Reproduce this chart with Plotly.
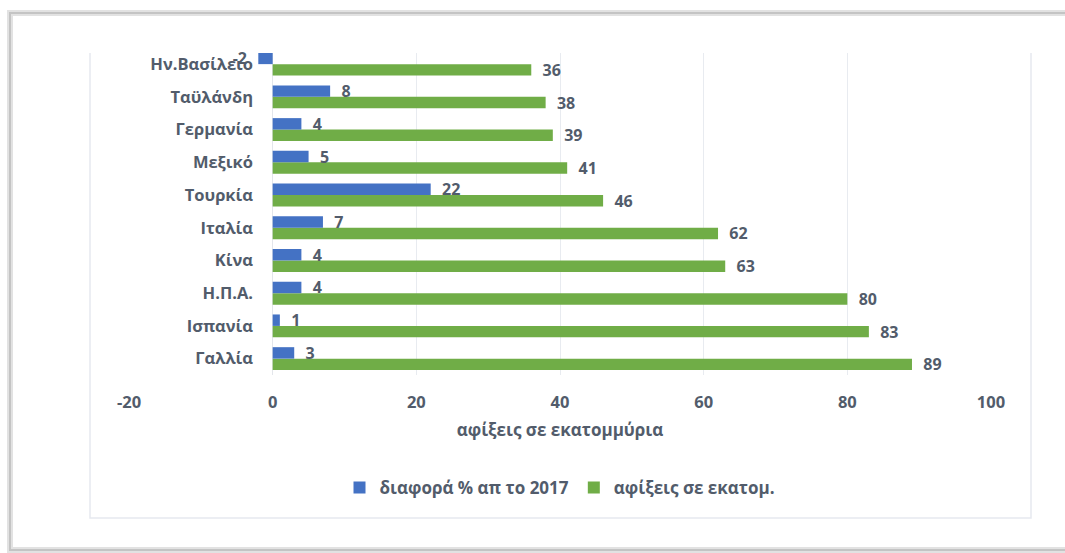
import plotly.graph_objects as go

# Countries, bottom to top as drawn on the category axis
countries = ["Γαλλία", "Ισπανία", "Η.Π.Α.", "Κίνα", "Ιταλία",
             "Τουρκία", "Μεξικό", "Γερμανία", "Ταϋλάνδη", "Ην.Βασίλειο"]
# Change in % relative to 2017
diff_pct = [3, 1, 4, 4, 7, 22, 5, 4, 8, -2]
# Arrivals in millions
arrivals = [89, 83, 80, 63, 62, 46, 41, 39, 38, 36]

x_ticks = [-20, 0, 20, 40, 60, 80, 100]

BLUE = "#4472C4"
GREEN = "#70AD47"
TEXT = "#525c6b"
FONT = "Open Sans"
NB = "\u00a0\u00a0"

W, H = 1065, 553
ML, MR, MT, MB = 129, 74, 53, 178
PW, PH = W - ML - MR, H - MT - MB


def px(xpix):
    return (xpix - ML) / PW


def py(ypix):
    return (H - MB - ypix) / PH


def lbl(v):
    return f"{v}{NB}" if v < 0 else f"{NB}{v}"


def bold(size):
    return dict(family=FONT, size=size, color=TEXT, weight="bold")


fig = go.Figure()
fig.add_trace(go.Bar(
    y=countries, x=arrivals, orientation="h", name="αφίξεις σε εκατομ.",
    marker=dict(color=GREEN, line=dict(width=0)),
    text=[lbl(v) for v in arrivals], textposition="outside",
    textfont=bold(16), constraintext="none",
    cliponaxis=False, legendrank=2,
))
fig.add_trace(go.Bar(
    y=countries, x=diff_pct, orientation="h", name="διαφορά % απ το 2017",
    marker=dict(color=BLUE, line=dict(width=0)),
    text=[lbl(v) for v in diff_pct], textposition="outside",
    textfont=bold(16), constraintext="none",
    cliponaxis=False, legendrank=1,
))

# outer frame: left, top and bottom edges (the right edge runs off the page)
outer = f"M {px(1070)},{py(13)} L {px(10)},{py(13)} L {px(10)},{py(550)} L {px(1070)},{py(550)}"
shapes = [
    dict(type="path", xref="paper", yref="paper", path=outer,
         line=dict(color="#e2e2e2", width=6), layer="below"),
    dict(type="path", xref="paper", yref="paper", path=outer,
         line=dict(color="#c4c4c4", width=2), layer="below"),
    # inner chart area border (left, bottom, right)
    dict(type="path", xref="paper", yref="paper",
         path=f"M {px(90)},{py(53)} L {px(90)},{py(518)} L {px(1031)},{py(518)} L {px(1031)},{py(53)}",
         line=dict(color="#e6e9ef", width=1.5), layer="below"),
]

fig.update_layout(
    width=W, height=H,
    margin=dict(l=ML, r=MR, t=MT, b=MB),
    paper_bgcolor="white", plot_bgcolor="white",
    barmode="group", bargap=0.3, bargroupgap=0,
    font=bold(16),
    shapes=shapes,
    showlegend=True,
    legend=dict(orientation="h", x=0.5, xanchor="center",
                y=py(488), yanchor="middle",
                font=bold(17), itemwidth=30, tracegroupgap=0),
    xaxis=dict(range=[-20, 100], tickvals=x_ticks, ticktext=[str(t) for t in x_ticks],
               showgrid=True, gridcolor="#e8ebf0", gridwidth=1,
               zeroline=True, zerolinecolor="#e3e6eb", zerolinewidth=1,
               showline=False, ticks="", ticklabelstandoff=15,
               tickfont=bold(16.5),
               title=dict(text="αφίξεις σε εκατομμύρια", standoff=12, font=bold(17))),
    yaxis=dict(type="category", categoryorder="array", categoryarray=countries,
               range=[-0.5, 9.34], showgrid=False, zeroline=False, showline=False,
               anchor="free", position=px(273), ticks="", ticklabelstandoff=20,
               tickfont=bold(16.5)),
)

fig.write_html("out.html")
